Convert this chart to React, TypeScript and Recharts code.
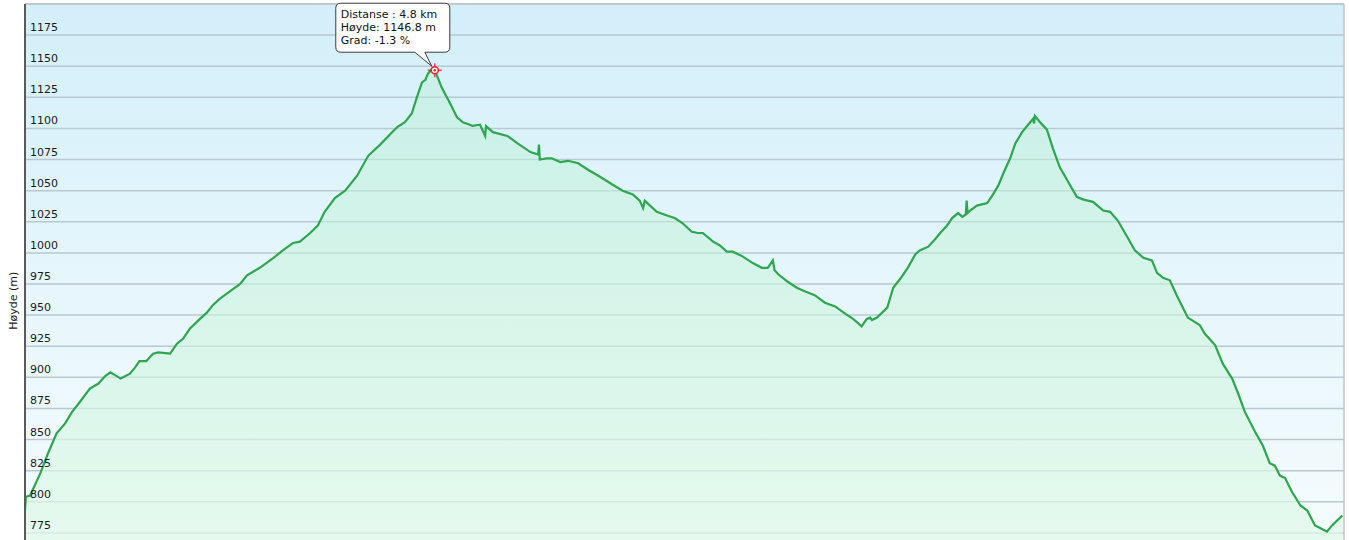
import React from 'react';
import { ComposedChart, Area, XAxis, YAxis, CartesianGrid, ReferenceDot, ReferenceLine } from 'recharts';

const distanceKm = [
  0.00, 0.01, 0.06, 0.18, 0.27, 0.37, 0.47, 0.55, 0.64, 0.76, 0.86, 0.94, 1.00, 1.05, 1.12, 1.23, 1.29, 1.34, 1.42, 1.50,
  1.56, 1.70, 1.78, 1.85, 1.93, 2.05, 2.13, 2.20, 2.28, 2.42, 2.52, 2.60, 2.75, 2.91, 3.02, 3.14, 3.22, 3.34, 3.43, 3.51,
  3.63, 3.75, 3.89, 4.02, 4.16, 4.30, 4.36, 4.45, 4.53, 4.59, 4.65, 4.69, 4.72, 4.77, 4.80, 4.88, 4.98, 5.06, 5.13, 5.21,
  5.24, 5.33, 5.39, 5.40, 5.48, 5.65, 5.77, 5.92, 6.01, 6.02, 6.03, 6.11, 6.17, 6.27, 6.36, 6.48, 6.59, 6.74, 6.88, 7.00,
  7.12, 7.20, 7.24, 7.26, 7.29, 7.40, 7.52, 7.61, 7.70, 7.81, 7.88, 7.94, 8.06, 8.14, 8.22, 8.29, 8.41, 8.52, 8.63, 8.70,
  8.76, 8.78, 8.82, 8.93, 9.04, 9.14, 9.25, 9.37, 9.49, 9.61, 9.70, 9.80, 9.86, 9.90, 9.92, 9.98, 10.10, 10.17, 10.25, 10.34,
  10.43, 10.48, 10.58, 10.66, 10.72, 10.80, 10.86, 10.93, 10.98, 11.02, 11.03, 11.04, 11.07, 11.15, 11.27, 11.33, 11.40, 11.46, 11.54, 11.60,
  11.68, 11.75, 11.81, 11.82, 11.83, 11.89, 11.97, 12.04, 12.12, 12.22, 12.32, 12.39, 12.51, 12.63, 12.71, 12.80, 12.91, 13.00, 13.10, 13.20,
  13.26, 13.33, 13.41, 13.49, 13.62, 13.76, 13.82, 13.94, 14.03, 14.14, 14.21, 14.29, 14.41, 14.50, 14.58, 14.64, 14.70, 14.76, 14.84, 14.94,
  15.02, 15.11, 15.17, 15.25, 15.31, 15.43,
];

const elevationM = [
  793, 804, 805, 823, 839, 855, 863, 872, 880, 891, 895, 901, 904, 902, 899, 903, 908, 913, 913, 919,
  920, 919, 927, 931, 939, 947, 952, 958, 963, 970, 975, 982, 988, 996, 1002, 1008, 1009, 1016, 1022, 1033,
  1044, 1050, 1062, 1078, 1087, 1097, 1101, 1105, 1112, 1125, 1137, 1139, 1144, 1148, 1146.8, 1133, 1120, 1109, 1105, 1103,
  1102, 1103, 1094, 1102, 1097, 1094, 1088, 1081, 1079, 1087, 1075, 1076, 1076, 1073, 1074, 1072, 1067, 1061, 1055, 1050,
  1047, 1042, 1036, 1042, 1040, 1033, 1030, 1028, 1024, 1017, 1016, 1016, 1009, 1006, 1001, 1001, 997, 992, 988, 988,
  994, 986, 983, 977, 972, 969, 966, 960, 957, 951, 947, 941, 947, 948, 946, 948, 956, 972, 979, 988,
  999, 1002, 1005, 1011, 1016, 1022, 1028, 1032, 1029, 1031, 1042, 1032, 1034, 1038, 1040, 1046, 1054, 1064, 1076, 1088,
  1097, 1103, 1108, 1104, 1110, 1105, 1099, 1084, 1069, 1057, 1045, 1043, 1041, 1034, 1033, 1026, 1013, 1002, 996, 994,
  984, 980, 978, 966, 948, 942, 935, 926, 911, 899, 887, 872, 856, 845, 831, 829, 821, 819, 808, 797,
  793, 781, 779, 776, 781, 789,
];

const yTicks = [750, 775, 800, 825, 850, 875, 900, 925, 950, 975, 1000, 1025, 1050, 1075, 1100, 1125, 1150, 1175, 1200];
const yLabelText = 'Høyde (m)';

const hover = { distance: 4.8, elevation: 1146.8, grade: -1.3 };
const tooltipLines = [
  `Distanse : ${hover.distance} km`,
  `Høyde: ${hover.elevation} m`,
  `Grad: ${hover.grade} %`,
];

const data = distanceKm.map((d, i) => ({ d, h: elevationM[i] }));

const FONT = '"DejaVu Sans", Verdana, sans-serif';

const renderYTick = (props: any) => {
  const { x, y, payload } = props;
  if (payload.value <= 750 || payload.value >= 1200) return <g />;
  return (
    <text x={x + 7} y={y - 4} fontSize={11} fontFamily={FONT} fill="#1a1a1a" textAnchor="start">
      {payload.value}
    </text>
  );
};

const renderYLabel = (props: any) => {
  const vb = props.viewBox || { x: 24, y: 4, width: 1, height: 560 };
  const cx = 14;
  const cy = vb.y + vb.height * 0.53;
  return (
    <text
      x={cx}
      y={cy}
      transform={`rotate(-90, ${cx}, ${cy})`}
      textAnchor="middle"
      dominantBaseline="central"
      fontSize={11}
      fontFamily={FONT}
      fill="#1a1a1a"
    >
      {yLabelText}
    </text>
  );
};

const Callout = (props: any) => {
  const { cx, cy } = props;
  if (cx == null || cy == null) return <g />;
  const l = cx - 99, r = cx + 15, t = cy - 67, b = cy - 18, rad = 5;
  const path = [
    `M ${l + rad} ${t}`,
    `L ${r - rad} ${t}`,
    `Q ${r} ${t} ${r} ${t + rad}`,
    `L ${r} ${b - rad}`,
    `Q ${r} ${b} ${r - rad} ${b}`,
    `L ${cx - 10} ${b}`,
    `L ${cx - 3} ${cy - 4}`,
    `L ${cx - 20} ${b}`,
    `L ${l + rad} ${b}`,
    `Q ${l} ${b} ${l} ${b - rad}`,
    `L ${l} ${t + rad}`,
    `Q ${l} ${t} ${l + rad} ${t}`,
    'Z',
  ].join(' ');
  return (
    <g>
      <path d={path} fill="#ffffff" stroke="#3a3a3a" strokeWidth={1} />
      {tooltipLines.map((s, i) => (
        <text key={i} x={l + 5} y={cy - 52 + i * 13} fontSize={11} fontFamily={FONT} fill="#111">
          {s}
        </text>
      ))}
      <line x1={cx - 7} y1={cy} x2={cx + 7} y2={cy} stroke="#e8202a" strokeWidth={1.2} />
      <line x1={cx} y1={cy - 7} x2={cx} y2={cy + 7} stroke="#e8202a" strokeWidth={1.2} />
      <circle cx={cx} cy={cy} r={3.5} fill="#ffffff" stroke="#e8202a" strokeWidth={1.5} />
      <circle cx={cx} cy={cy} r={1.2} fill="#e8202a" />
    </g>
  );
};

export default function App() {
  return (
    <div style={{ position: 'absolute', left: 0, top: 0, width: 1349, height: 566, background: '#fff' }}>
      <ComposedChart
        width={1349}
        height={566}
        data={data}
        margin={{ top: 4, right: 5, bottom: 2, left: 5 }}
      >
        <defs>
          <linearGradient id="bgGrad" x1="0" y1="0" x2="0" y2="1">
            <stop offset="0%" stopColor="#d3effa" />
            <stop offset="50%" stopColor="#e6f6fc" />
            <stop offset="100%" stopColor="#f6fcfd" />
          </linearGradient>
          <linearGradient id="areaGrad" x1="0" y1="0" x2="0" y2="1">
            <stop offset="0%" stopColor="#b8efd2" stopOpacity={0.45} />
            <stop offset="100%" stopColor="#e2f9ea" stopOpacity={0.75} />
          </linearGradient>
        </defs>
        <CartesianGrid
          vertical={false}
          fill="url(#bgGrad)"
          stroke="#b7c9d1"
          strokeWidth={1.5}
        />
        <XAxis dataKey="d" type="number" domain={[0, 15.45]} hide allowDataOverflow />
        <YAxis
          type="number"
          domain={[750, 1200]}
          ticks={yTicks}
          width={20}
          tick={renderYTick}
          tickLine={false}
          tickSize={0}
          axisLine={{ stroke: '#5a5a5a', strokeWidth: 2 }}
          interval={0}
          label={{ content: renderYLabel }}
        />
        <ReferenceLine y={1200} stroke="#c4c4c4" strokeWidth={1.5} />
        <ReferenceLine x={15.45} stroke="#c4c4c4" strokeWidth={1.5} />
        <Area
          type="linear"
          dataKey="h"
          stroke="#2ea64f"
          strokeWidth={2.2}
          fill="url(#areaGrad)"
          fillOpacity={1}
          baseValue={750}
          isAnimationActive={false}
          dot={false}
          activeDot={false}
        />
        <ReferenceDot x={hover.distance} y={hover.elevation} shape={Callout} ifOverflow="visible" />
      </ComposedChart>
    </div>
  );
}
